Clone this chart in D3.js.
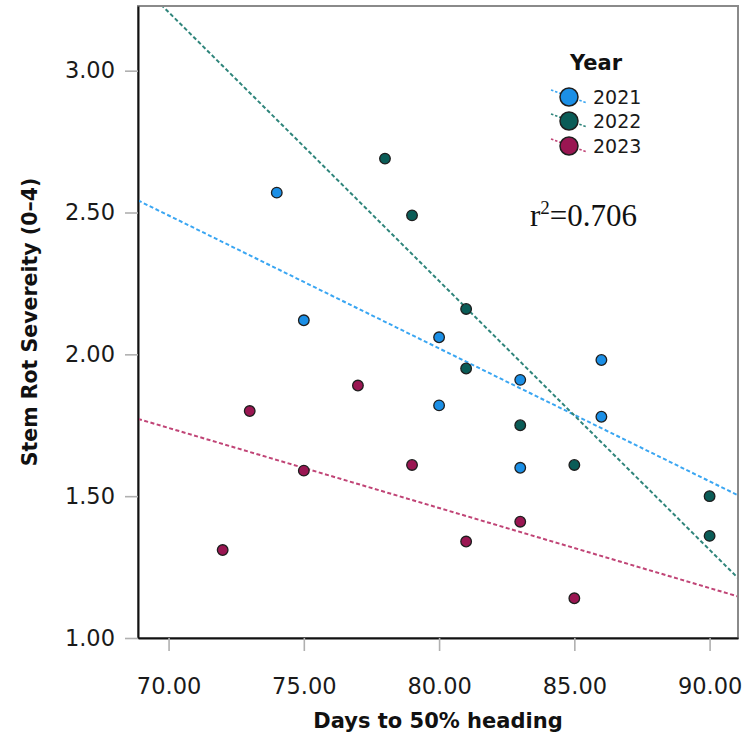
<!DOCTYPE html>
<html>
<head>
<meta charset="utf-8">
<script src="https://cdn.jsdelivr.net/npm/d3@7"></script>
<style>
  html, body { margin: 0; padding: 0; background: #fff; }
  svg { display: block; }
</style>
</head>
<body>
<svg id="chart" width="745" height="744"></svg>
<script>
// Days to 50% heading (x) and stem rot severity (y) per year
const years = ["2021", "2022", "2023"];
const days2021 = [74, 75, 80, 80, 83, 83, 86, 86];
const sev2021  = [2.57, 2.12, 2.06, 1.82, 1.91, 1.60, 1.98, 1.78];
const days2022 = [78, 79, 81, 81, 83, 85, 90, 90];
const sev2022  = [2.69, 2.49, 2.16, 1.95, 1.75, 1.61, 1.50, 1.36];
const days2023 = [72, 73, 75, 77, 79, 81, 83, 85];
const sev2023  = [1.31, 1.80, 1.59, 1.89, 1.61, 1.34, 1.41, 1.14];
const xTicks = [70, 75, 80, 85, 90];
const yTicks = [1.00, 1.50, 2.00, 2.50, 3.00];
const rSquaredLabel = "0.706";

const pointColors = ["#1b8fe6", "#0a5c57", "#9a1652"];
const lineColors  = ["#3aa6f2", "#2f857b", "#c04476"];

const series = [
  { year: years[0], x: days2021, y: sev2021 },
  { year: years[1], x: days2022, y: sev2022 },
  { year: years[2], x: days2023, y: sev2023 }
];

const svg = d3.select("#chart");
const plot = { left: 138, right: 738, top: 6, bottom: 638 };

const x = d3.scaleLinear().domain([68.87, 91.05]).range([plot.left, plot.right]);
const y = d3.scaleLinear().domain([1.0, 3.228]).range([plot.bottom, plot.top]);

const fontSans = "'DejaVu Sans', 'Noto Sans', sans-serif";

// plot frame
svg.append("rect")
  .attr("x", plot.left).attr("y", plot.top)
  .attr("width", plot.right - plot.left).attr("height", plot.bottom - plot.top)
  .attr("fill", "#fff").attr("stroke", "#8a8a8a").attr("stroke-width", 2);

// axes
const xAxis = d3.axisBottom(x).tickValues(xTicks).tickFormat(d3.format(".2f"))
  .tickSizeOuter(0).tickSizeInner(13).tickPadding(27);
const yAxis = d3.axisLeft(y).tickValues(yTicks).tickFormat(d3.format(".2f"))
  .tickSizeOuter(0).tickSizeInner(13).tickPadding(10);

const gx = svg.append("g").attr("transform", `translate(0,${plot.bottom})`).call(xAxis);
const gy = svg.append("g").attr("transform", `translate(${plot.left},0)`).call(yAxis);
[gx, gy].forEach(g => {
  g.select(".domain").attr("stroke", "#111").attr("stroke-width", 2);
  g.selectAll(".tick line").attr("stroke", "#b0b0b0").attr("stroke-width", 1.6);
  g.selectAll(".tick text").attr("fill", "#1a1a1a")
    .style("font-family", fontSans).style("font-size", "22.5px");
});

// axis titles
svg.append("text")
  .attr("x", (plot.left + plot.right) / 2).attr("y", 728)
  .attr("text-anchor", "middle")
  .style("font-family", fontSans).style("font-weight", "bold").style("font-size", "21px")
  .attr("fill", "#111")
  .text("Days to 50% heading");

svg.append("text")
  .attr("transform", `translate(37,322) rotate(-90)`)
  .attr("text-anchor", "middle")
  .style("font-family", fontSans).style("font-weight", "bold").style("font-size", "20.5px")
  .attr("fill", "#111")
  .text("Stem Rot Severeity (0\u20134)");

// least-squares fit per year, clipped to the plot area
svg.append("clipPath").attr("id", "plotClip")
  .append("rect")
  .attr("x", plot.left + 1).attr("y", plot.top + 1)
  .attr("width", plot.right - plot.left - 2).attr("height", plot.bottom - plot.top - 2);

function fit(xs, ys) {
  const mx = d3.mean(xs), my = d3.mean(ys);
  let sxy = 0, sxx = 0;
  xs.forEach((v, i) => { sxy += (v - mx) * (ys[i] - my); sxx += (v - mx) * (v - mx); });
  const b = sxy / sxx;
  return { b, a: my - b * mx };
}

const fitG = svg.append("g").attr("clip-path", "url(#plotClip)");
series.forEach((s, i) => {
  const f = fit(s.x, s.y);
  const [x0, x1] = x.domain();
  fitG.append("line")
    .attr("x1", x(x0)).attr("y1", y(f.a + f.b * x0))
    .attr("x2", x(x1)).attr("y2", y(f.a + f.b * x1))
    .attr("stroke", lineColors[i]).attr("stroke-width", 2)
    .attr("stroke-dasharray", "4,2.5");
});

// points
series.forEach((s, i) => {
  svg.append("g").selectAll("circle")
    .data(s.x.map((v, j) => [v, s.y[j]]))
    .join("circle")
    .attr("cx", d => x(d[0])).attr("cy", d => y(d[1]))
    .attr("r", 5.3)
    .attr("fill", pointColors[i])
    .attr("stroke", "#1e1e1e").attr("stroke-width", 1.3);
});

// legend
const legend = svg.append("g");
legend.append("text")
  .attr("x", 570).attr("y", 70)
  .style("font-family", fontSans).style("font-weight", "bold").style("font-size", "21px")
  .attr("fill", "#111").text("Year");

const rowY = [97, 121, 146];
years.forEach((yr, i) => {
  const cy = rowY[i];
  legend.append("line")
    .attr("x1", 551).attr("y1", cy - 7).attr("x2", 587).attr("y2", cy + 6)
    .attr("stroke", lineColors[i]).attr("stroke-width", 1.6)
    .attr("stroke-dasharray", "2.5,1.8");
  legend.append("circle")
    .attr("cx", 569).attr("cy", cy).attr("r", 9)
    .attr("fill", pointColors[i]).attr("stroke", "#1e1e1e").attr("stroke-width", 1.5);
  legend.append("text")
    .attr("x", 593).attr("y", cy + 7)
    .style("font-family", fontSans).style("font-size", "19px")
    .attr("fill", "#1a1a1a").text(yr);
});

// coefficient of determination
const r2 = svg.append("text")
  .attr("x", 530).attr("y", 226)
  .style("font-family", "'Liberation Serif', 'Times New Roman', serif")
  .style("font-size", "31px").attr("fill", "#111");
r2.append("tspan").text("r");
r2.append("tspan").attr("dy", -12).style("font-size", "19px").text("2");
r2.append("tspan").attr("dy", 12).text("=" + rSquaredLabel);
</script>
</body>
</html>
